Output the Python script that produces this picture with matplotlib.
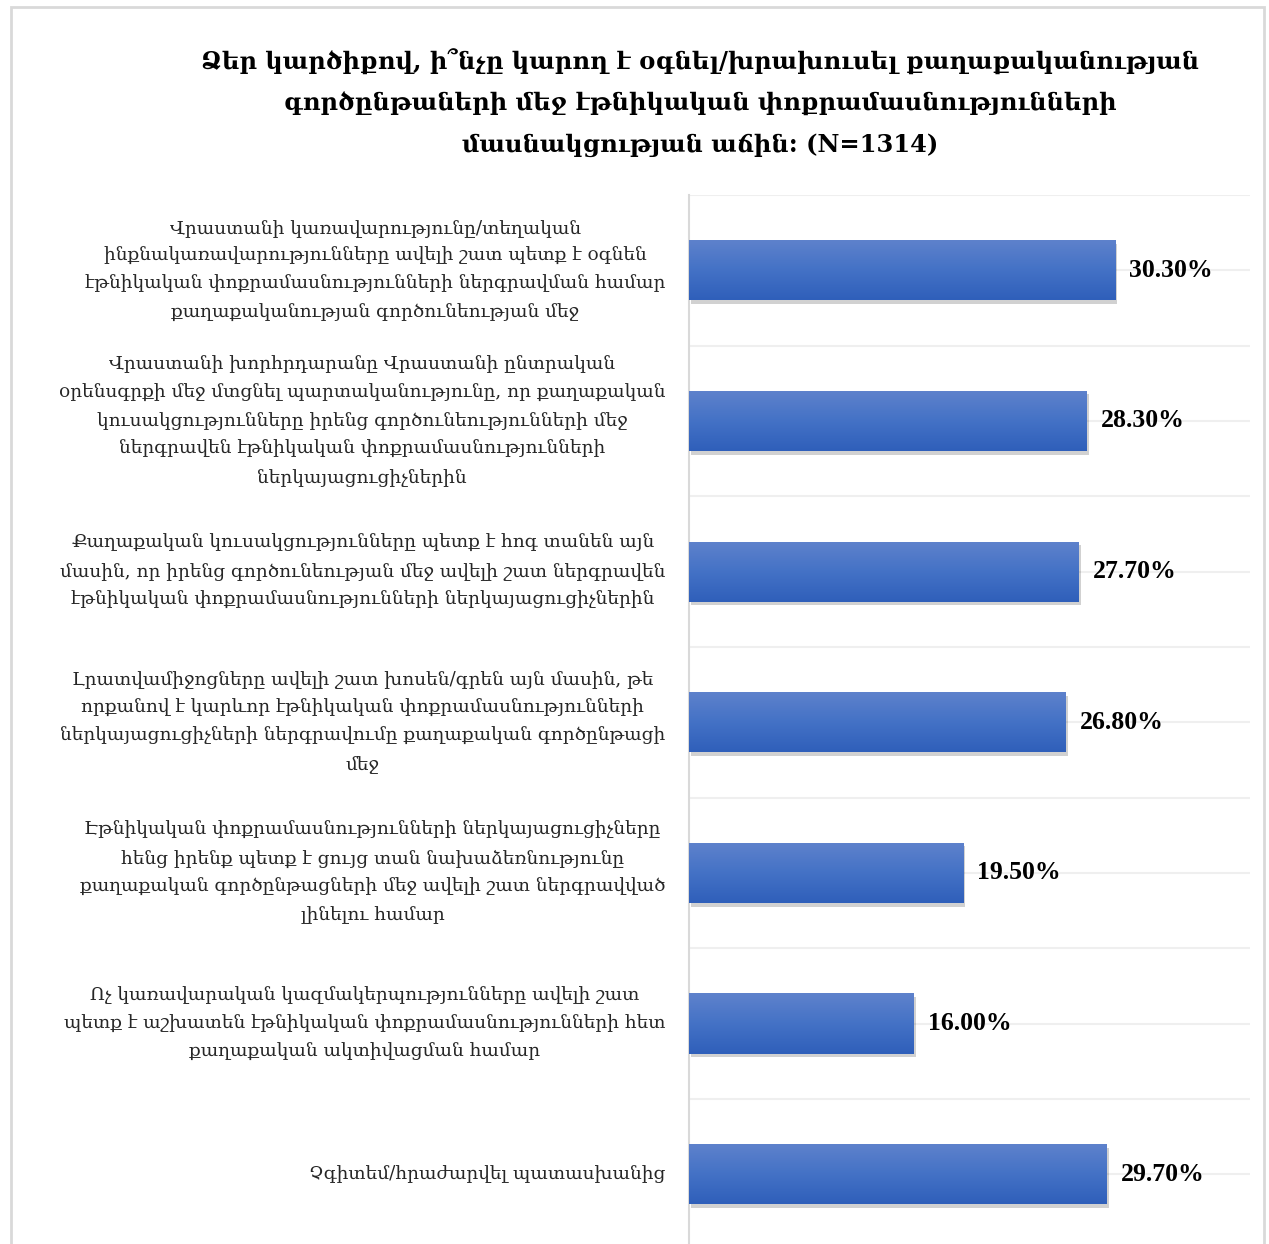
import matplotlib
matplotlib.use("Agg")
import matplotlib.pyplot as plt
import matplotlib.patheffects as pe
import numpy as np
from matplotlib.patches import Rectangle
from matplotlib.colors import LinearSegmentedColormap

title = ("Ձեր կարծիքով, ի՞նչը կարող է օգնել/խրախուսել քաղաքականության\n"
         "գործընթաների մեջ էթնիկական փոքրամասնությունների\n"
         "մասնակցության աճին: (N=1314)")

categories = [
    "Վրաստանի կառավարությունը/տեղական\nինքնակառավարությունները ավելի շատ պետք է օգնեն\nէթնիկական փոքրամասնությունների ներգրավման համար\nքաղաքականության գործունեության մեջ",
    "Վրաստանի խորհրդարանը Վրաստանի ընտրական\nօրենսգրքի մեջ մտցնել պարտականությունը, որ քաղաքական\nկուսակցությունները իրենց գործունեությունների մեջ\nներգրավեն էթնիկական փոքրամասնությունների\nներկայացուցիչներին",
    "Քաղաքական կուսակցությունները պետք է հոգ տանեն այն\nմասին, որ իրենց գործունեության մեջ ավելի շատ ներգրավեն\nէթնիկական փոքրամասնությունների ներկայացուցիչներին",
    "Լրատվամիջոցները ավելի շատ խոսեն/գրեն այն մասին, թե\nորքանով է կարևոր էթնիկական փոքրամասնությունների\nներկայացուցիչների ներգրավումը քաղաքական գործընթացի\nմեջ",
    "Էթնիկական փոքրամասնությունների ներկայացուցիչները\nհենց իրենք պետք է ցույց տան նախաձեռնությունը\nքաղաքական գործընթացների մեջ ավելի շատ ներգրավված\nլինելու համար",
    "Ոչ կառավարական կազմակերպությունները ավելի շատ\nպետք է աշխատեն էթնիկական փոքրամասնությունների հետ\nքաղաքական ակտիվացման համար",
    "Չգիտեմ/հրաժարվել պատասխանից",
]
values = [30.3, 28.3, 27.7, 26.8, 19.5, 16.0, 29.7]
value_labels = ["30.30%", "28.30%", "27.70%", "26.80%", "19.50%", "16.00%", "29.70%"]

W, H = 1269, 1244
fig = plt.figure(figsize=(W / 100, H / 100), dpi=100)
fig.patch.set_facecolor("white")

# outer frame
frame = Rectangle((11 / W, -0.01), (1264 - 11) / W, 1 - 7 / H + 0.01,
                  transform=fig.transFigure, fill=False,
                  edgecolor="#d9d9d9", linewidth=2.0)
fig.patches.append(frame)

ax_left = 689 / W
ax_right = 1250 / W
ax_top = 1 - 195 / H
ax = fig.add_axes([ax_left, 0.0, ax_right - ax_left, ax_top])

y = np.arange(len(values))
bar_h = 0.4
bars = ax.barh(y, values, height=bar_h, color="#4472C4", zorder=3,
               path_effects=[pe.SimplePatchShadow(offset=(1.5, -2.5), shadow_rgbFace="#000000", alpha=0.18),
                             pe.Normal()])

# gradient overlay
grad = np.linspace(0, 1, 256).reshape(-1, 1)
cmap = LinearSegmentedColormap.from_list("g", ["#5F82CC", "#4472C6", "#2F5FBA"])
for b in bars:
    x0, y0 = b.get_x(), b.get_y()
    w, h = b.get_width(), b.get_height()
    im = ax.imshow(grad, cmap=cmap, aspect="auto", extent=(x0, x0 + w, y0 + h, y0),
                   zorder=4, interpolation="bicubic")
    im.set_clip_path(b)

ax.set_xlim(0, 39.9)
ax.set_ylim(6.463, -0.5)

for g in np.arange(-0.5, 6.5, 0.5):
    ax.axhline(g, color="#efefef", linewidth=1.5, zorder=1)

for spine in ["top", "right", "bottom"]:
    ax.spines[spine].set_visible(False)
ax.spines["left"].set_color("#d9d9d9")
ax.spines["left"].set_linewidth(1.5)
ax.set_xticks([])
ax.set_yticks([])

for yi, v, lab in zip(y, values, value_labels):
    ax.text(v + 1.0, yi, lab, va="center", ha="left", fontsize=18.5,
            fontweight="bold", family="Liberation Serif", color="black", zorder=5)

for yi, cat in zip(y, categories):
    ax.annotate(cat, xy=(0, yi), xycoords="data", xytext=(-17, 0),
                textcoords="offset points", ha="right", va="center",
                multialignment="center", fontsize=13.3, family="DejaVu Serif",
                color="#262626", linespacing=1.73, annotation_clip=False)

fig.text(700 / W, 1 - 103 / H, title, ha="center", va="center",
         multialignment="center", fontsize=17.4, fontweight="bold",
         family="DejaVu Serif", color="black", linespacing=1.88)

fig.savefig("out.png", dpi=100, facecolor="white")
